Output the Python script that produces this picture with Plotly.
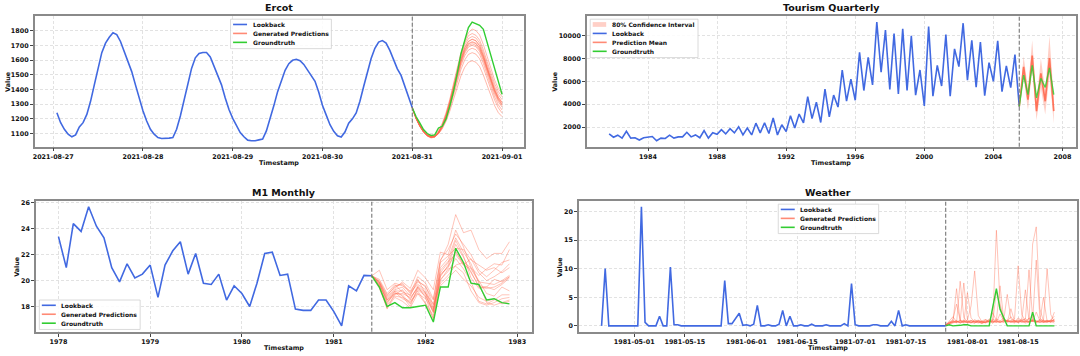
import plotly.graph_objects as go
import pandas as pd

# ================= DATA =================
# ---- Ercot (hourly) ----
ercot_lookback = [
    1241, 1174, 1129, 1096, 1078, 1091, 1145, 1174, 1230, 1319, 1431, 1543, 1650, 1715, 1755, 1785, 1773, 1726, 1659, 1588, 1521, 1431, 1337,
    1255, 1185, 1129, 1096, 1073, 1066, 1066, 1069, 1073, 1129, 1219, 1330, 1442, 1543, 1615, 1644, 1651, 1651, 1621, 1561, 1498, 1431, 1342, 1263,
    1203, 1151, 1107, 1078, 1055, 1051, 1051, 1057, 1062, 1118, 1200, 1290, 1385, 1465, 1530, 1575, 1598, 1605, 1595, 1570, 1530, 1495, 1455, 1380,
    1290, 1225, 1160, 1115, 1085, 1076, 1110, 1170, 1200, 1240, 1320, 1420, 1520, 1610, 1680, 1722, 1732, 1715, 1665, 1600, 1540, 1495, 1420, 1345,
    1275,
]
ercot_truth = [1275, 1216, 1172, 1127, 1100, 1087, 1091, 1138, 1149, 1198, 1283, 1384, 1507, 1641, 1731, 1820,
               1858, 1847, 1836, 1809, 1720, 1630, 1541, 1451, 1366]
ercot_samples = [
    [1275, 1210, 1160, 1120, 1095, 1085, 1090, 1120, 1170, 1240, 1330, 1440, 1550, 1650, 1730, 1785, 1810, 1800, 1770, 1705, 1625, 1540, 1465, 1405, 1370],
    [1275, 1205, 1150, 1110, 1085, 1075, 1082, 1112, 1160, 1230, 1320, 1425, 1535, 1635, 1715, 1765, 1780, 1768, 1735, 1670, 1590, 1510, 1440, 1385, 1350],
    [1275, 1208, 1158, 1118, 1092, 1080, 1085, 1110, 1155, 1222, 1310, 1415, 1520, 1620, 1700, 1745, 1760, 1750, 1715, 1650, 1570, 1490, 1420, 1365, 1330],
    [1275, 1200, 1148, 1108, 1082, 1070, 1075, 1100, 1148, 1215, 1305, 1405, 1510, 1605, 1680, 1725, 1740, 1730, 1695, 1630, 1550, 1470, 1400, 1345, 1310],
    [1275, 1204, 1152, 1112, 1087, 1076, 1080, 1106, 1152, 1218, 1302, 1400, 1500, 1595, 1668, 1712, 1725, 1715, 1682, 1620, 1542, 1462, 1392, 1338, 1300],
    [1275, 1206, 1156, 1116, 1090, 1078, 1083, 1108, 1150, 1212, 1295, 1392, 1492, 1585, 1655, 1698, 1710, 1700, 1668, 1606, 1530, 1452, 1382, 1326, 1290],
    [1275, 1202, 1150, 1110, 1084, 1072, 1076, 1100, 1142, 1205, 1288, 1385, 1485, 1575, 1645, 1688, 1700, 1690, 1658, 1596, 1520, 1440, 1370, 1315, 1280],
    [1275, 1207, 1157, 1117, 1091, 1079, 1082, 1104, 1144, 1204, 1283, 1376, 1472, 1560, 1628, 1668, 1680, 1670, 1638, 1576, 1500, 1420, 1350, 1295, 1260],
    [1275, 1203, 1151, 1111, 1085, 1073, 1077, 1098, 1136, 1192, 1268, 1358, 1450, 1535, 1600, 1638, 1650, 1640, 1608, 1548, 1474, 1396, 1328, 1275, 1240],
    [1275, 1205, 1154, 1114, 1088, 1076, 1079, 1098, 1132, 1182, 1250, 1330, 1415, 1492, 1550, 1585, 1595, 1585, 1555, 1498, 1428, 1355, 1290, 1242, 1215],
    [1275, 1206, 1155, 1115, 1089, 1077, 1081, 1107, 1153, 1220, 1306, 1408, 1512, 1608, 1683, 1728, 1742, 1732, 1698, 1633, 1553, 1473, 1403, 1348, 1312],
    [1275, 1204, 1153, 1113, 1087, 1075, 1080, 1105, 1150, 1216, 1300, 1398, 1498, 1592, 1664, 1708, 1720, 1711, 1678, 1616, 1538, 1458, 1388, 1333, 1296],
]
ercot_ticks = ["2021-08-27", "2021-08-28", "2021-08-29", "2021-08-30", "2021-08-31", "2021-09-01"]
ercot_yticks = [1100, 1200, 1300, 1400, 1500, 1600, 1700, 1800]

# ---- Tourism Quarterly ----
tourism_lookback = [
    1400, 1110, 1290, 1030, 1630, 1030, 1060, 860, 1060, 1140, 1170, 800, 1030, 1000, 1290, 1030,
    1140, 1140, 1540, 1140, 1310, 1060, 1690, 1030, 1510, 1370, 1770, 1400, 1860, 1490, 2030, 1310,
    1910, 1310, 2340, 1490, 2370, 1430, 2800, 1310, 2200, 1600, 3000, 1910, 3140, 2370, 4660, 2740,
    4170, 2400, 5330, 2900, 4800, 3750, 7000, 4270, 6200, 4350, 8550, 5200, 8100, 5700, 11200, 6800,
    10500, 5300, 10200, 4900, 10600, 5200, 10000, 4800, 7000, 3850, 10800, 4700, 7400, 5600, 10100, 4700,
    8850, 7300, 11100, 6100, 9600, 5500, 9450, 4750, 7650, 6000, 9550, 5100, 7350, 5450, 8350, 3800,
]
tourism_mean = [3800, 7270, 4400, 8270, 3400, 6700, 4260, 8050, 3400]
tourism_truth = [3800, 6550, 4840, 7400, 4550, 6270, 5470, 7190, 4840]
tourism_lower = [3600, 6300, 3500, 7000, 2600, 5400, 3100, 6500, 2300]
tourism_upper = [4000, 8200, 5400, 9600, 4300, 8000, 5200, 10000, 4500]
tourism_ticks = ["1984", "1988", "1992", "1996", "2000", "2004", "2008"]
tourism_yticks = [2000, 4000, 6000, 8000, 10000]

# ---- M1 Monthly ----
m1_lookback = [
    23.4, 21.0, 24.4, 23.8, 25.7, 24.2, 23.3, 21.0, 19.9, 21.3, 20.2, 20.5,
    21.2, 18.7, 21.2, 22.3, 23.0, 20.5, 22.1, 19.8, 19.7, 20.5, 18.5, 19.6,
    19.0, 18.0, 19.8, 22.1, 22.2, 20.4, 20.5, 17.8, 17.7, 17.7, 18.5, 18.5,
    17.6, 16.5, 19.6, 19.2, 20.4, 20.37,
]
m1_truth = [20.37, 19.5, 18.0, 18.3, 17.9, 17.9, 18.0, 18.1, 16.8, 19.5, 19.5, 22.5, 21.4, 19.8, 19.7, 18.5, 18.6, 18.3, 18.2]
m1_samples = [
    [20.37, 20.8, 19.3, 19.8, 19.6, 19.2, 20.0, 19.5, 18.5, 21.5, 22.8, 25.1, 23.7, 23.9, 22.4, 21.7, 22.1, 22.1, 23.0],
    [20.37, 19.9, 18.7, 19.4, 19.9, 19.4, 20.8, 20.2, 19.3, 22.2, 22.0, 23.9, 22.6, 21.0, 20.4, 20.9, 21.3, 21.2, 22.4],
    [20.37, 19.6, 17.8, 19.0, 18.9, 18.2, 19.2, 18.3, 17.3, 20.0, 20.9, 21.1, 20.6, 19.2, 18.3, 18.1, 18.3, 18.6, 18.7],
    [20.37, 19.8, 18.3, 19.2, 18.8, 18.0, 19.5, 18.7, 17.0, 20.3, 21.2, 22.8, 21.8, 20.6, 19.6, 19.5, 20.1, 19.9, 20.3],
    [20.37, 20.1, 19.0, 19.7, 19.1, 18.9, 19.9, 19.6, 18.1, 19.8, 20.4, 21.2, 21.4, 21.0, 20.0, 19.0, 18.8, 19.5, 19.2],
    [20.37, 19.5, 18.1, 18.8, 18.7, 18.4, 19.0, 18.6, 17.6, 21.0, 21.7, 23.3, 22.2, 21.3, 19.8, 18.3, 18.1, 18.3, 18.5],
    [20.37, 19.9, 18.6, 19.3, 19.5, 18.8, 20.1, 19.0, 18.2, 20.8, 21.5, 22.0, 21.2, 21.7, 20.6, 20.0, 20.3, 20.7, 21.3],
    [20.37, 19.7, 18.4, 18.9, 19.3, 18.5, 19.6, 19.1, 17.8, 20.6, 21.4, 23.1, 21.9, 20.2, 19.4, 19.5, 19.3, 19.7, 20.2],
    [20.37, 19.4, 17.9, 18.7, 18.4, 17.9, 19.0, 18.2, 17.1, 19.6, 20.2, 20.8, 20.1, 19.6, 18.7, 18.4, 18.6, 18.2, 18.4],
    [20.37, 20.0, 18.9, 19.5, 19.8, 19.1, 19.7, 19.3, 17.9, 21.4, 21.9, 22.5, 22.4, 21.6, 21.2, 20.8, 21.0, 20.6, 21.0],
    [20.37, 19.8, 18.5, 19.0, 19.0, 18.7, 19.4, 18.9, 17.5, 20.5, 21.0, 22.3, 21.2, 20.9, 19.9, 19.8, 19.7, 20.0, 20.4],
    [20.37, 19.6, 18.2, 19.1, 18.6, 18.3, 19.3, 18.8, 17.7, 20.1, 20.7, 21.7, 20.9, 19.9, 18.4, 18.2, 18.5, 18.9, 18.9],
    [20.37, 19.9, 18.8, 19.6, 19.7, 19.0, 20.3, 19.8, 18.6, 21.6, 22.4, 23.6, 22.8, 22.0, 20.8, 20.3, 20.8, 21.4, 21.6],
    [20.37, 19.7, 18.5, 19.2, 19.2, 18.6, 19.5, 19.0, 17.6, 20.4, 21.1, 22.2, 21.3, 20.7, 19.5, 19.4, 19.5, 19.8, 20.3],
]
m1_ticks = ["1978", "1979", "1980", "1981", "1982", "1983"]
m1_yticks = [18, 20, 22, 24, 26]

# ---- Weather (daily) ----
weather_lookback = [
    0, 10.0, 0, 0, 0, 0, 0, 0, 0, 0, 0, 20.8, 0.6, 0, 0, 0, 1.7, 0, 0, 10.3,
    0.2, 0.2, 0, 0, 0, 0, 0, 0, 0, 0, 0, 0, 0, 0, 7.9, 0.4, 0.4, 1.2, 2.2, 0.1,
    0.2, 0, 0.3, 3.6, 0, 0, 0.2, 0, 0, 0.3, 2.7, 0, 1.7, 0, 0, 0.2, 0, 0, 0.3, 0,
    0, 0, 0.2, 0, 0, 0, 0, 0.4, 0, 7.4, 0.2, 0, 0, 0, 0, 0.2, 0.2, 0, 0, 0,
    0.8, 0, 2.7, 0, 0.2, 0, 0, 0, 0, 0, 0, 0, 0, 0, 0, 0,
]
weather_truth = [0, 0.2, 0, 0, 0.1, 0.2, 0.2, 0, 0, 0, 0, 0, 0, 3.3, 6.5, 2.9, 1.5, 0, 0, 0,
                 0, 0, 0, 0, 2.4, 0, 0, 0, 0, 0, 0]
weather_samples = [
    [0.1, 0.4, 1.2, 3.8, 1.0, 0.6, 0.9, 0.5, 1.1, 0.7, 0.5, 0.8, 0.6, 1.0, 16.7, 4.0, 1.2, 0.6, 0.9, 0.7, 1.1, 0.8, 0.6, 1.4, 0.9, 0.7, 1.0, 0.6, 0.8, 0.9, 1.0],
    [0.2, 0.6, 0.8, 0.5, 7.8, 1.5, 0.7, 0.5, 0.9, 0.6, 0.4, 0.7, 1.0, 0.8, 0.6, 2.1, 0.9, 5.5, 1.2, 0.8, 0.6, 0.9, 1.3, 0.7, 14.3, 17.3, 3.0, 0.8, 0.9, 0.7, 1.2],
    [0.1, 0.5, 0.7, 6.5, 0.8, 7.5, 1.1, 0.6, 0.5, 0.8, 0.6, 0.9, 0.7, 1.2, 0.8, 0.6, 1.0, 0.7, 0.9, 1.2, 10.5, 2.0, 0.8, 0.7, 1.1, 0.9, 0.6, 0.8, 0.7, 0.9, 0.8],
    [0.2, 0.3, 0.6, 0.9, 0.5, 0.7, 1.0, 3.5, 9.6, 1.8, 0.7, 0.6, 0.9, 0.5, 1.0, 7.0, 1.3, 0.8, 0.6, 0.9, 0.7, 1.1, 6.3, 1.0, 0.8, 11.5, 1.4, 0.7, 1.0, 0.6, 0.9],
    [0.1, 0.8, 1.6, 0.7, 0.9, 0.6, 5.8, 1.4, 0.7, 0.9, 0.6, 1.1, 0.8, 0.7, 1.2, 0.9, 0.7, 1.0, 0.8, 0.6, 1.4, 0.9, 1.1, 9.8, 1.3, 0.8, 0.6, 1.0, 10.0, 2.0, 0.7],
    [0.2, 0.4, 0.9, 0.6, 0.8, 0.5, 0.7, 1.0, 0.6, 0.8, 0.5, 0.7, 1.2, 0.9, 0.6, 0.8, 1.4, 0.7, 3.0, 0.8, 0.6, 0.9, 0.7, 1.3, 0.8, 2.4, 0.9, 5.0, 0.8, 0.7, 2.4],
    [0.1, 0.6, 0.5, 0.8, 0.6, 0.9, 0.5, 0.7, 0.8, 1.0, 0.7, 0.5, 0.8, 2.3, 0.9, 0.6, 0.8, 0.9, 0.7, 0.5, 0.9, 0.7, 0.8, 0.6, 0.9, 0.8, 0.7, 0.6, 0.9, 0.7, 1.1],
    [0.2, 0.5, 0.7, 0.6, 1.0, 0.8, 0.6, 0.9, 0.7, 0.5, 0.8, 0.6, 0.9, 0.7, 0.8, 0.6, 1.0, 0.8, 1.6, 0.7, 0.9, 0.6, 0.8, 0.7, 0.9, 0.6, 0.8, 0.9, 0.7, 1.0, 0.8],
    [0.1, 0.3, 0.6, 0.9, 0.5, 0.8, 0.6, 0.7, 0.5, 0.9, 0.7, 0.6, 0.8, 0.5, 0.9, 0.7, 0.6, 0.8, 0.7, 0.9, 0.6, 0.8, 0.5, 0.7, 0.8, 0.6, 0.9, 0.7, 0.6, 0.8, 0.5],
    [0.2, 0.7, 0.9, 0.8, 0.6, 1.0, 0.7, 0.9, 0.8, 0.6, 0.9, 1.1, 0.7, 0.8, 6.0, 3.2, 0.8, 1.0, 0.7, 0.9, 0.8, 1.2, 0.9, 0.7, 1.0, 0.8, 1.1, 0.9, 0.8, 1.0, 1.7],
]
weather_ticks = ["1981-05-01", "1981-05-15", "1981-06-01", "1981-06-15", "1981-07-01", "1981-07-15", "1981-08-01", "1981-08-15"]
weather_yticks = [0, 5, 10, 15, 20]

# ================= STYLE =================
W, H = 1080, 356
FONT = "DejaVu Sans"
BLUE = "#4169E1"
GREEN = "#32CD32"
ERCOT_SAMPLE = "rgba(255,99,71,0.45)"
SAMPLE = "rgba(255,99,71,0.38)"
LEG_RED = "rgba(255,99,71,0.75)"
CI_FILL = "rgba(255,99,71,0.3)"


def px_x(p):
    return p / W


def px_y(p):
    return 1 - p / H


# ================= X DATES =================
ercot_lb_x = pd.date_range("2021-08-27 01:00", periods=len(ercot_lookback), freq="h")
ercot_fc_x = pd.date_range(ercot_lb_x[-1], periods=len(ercot_truth), freq="h")
tour_lb_x = pd.date_range("1981-10-01", periods=len(tourism_lookback), freq="QS")
tour_fc_x = pd.date_range(tour_lb_x[-1], periods=len(tourism_mean), freq="QS")
m1_lb_x = pd.date_range("1978-01-01", periods=len(m1_lookback), freq="MS")
m1_fc_x = pd.date_range(m1_lb_x[-1], periods=len(m1_truth), freq="MS")
w_lb_x = pd.date_range("1981-04-22", periods=len(weather_lookback), freq="D")
w_fc_x = pd.date_range(w_lb_x[-1], periods=len(weather_truth), freq="D")

fig = go.Figure()

P = {
    "ercot": ("x", "y"),
    "tour": ("x2", "y2"),
    "m1": ("x3", "y3"),
    "weather": ("x4", "y4"),
}


def add_line(panel, x, y, color, width, name):
    xa, ya = P[panel]
    fig.add_trace(go.Scatter(x=x, y=y, mode="lines", name=name, showlegend=False,
                             xaxis=xa, yaxis=ya, line=dict(color=color, width=width)))


# ---- Ercot ----
add_line("ercot", ercot_lb_x, ercot_lookback, BLUE, 1.6, "Lookback")
for s in ercot_samples:
    add_line("ercot", ercot_fc_x, s, ERCOT_SAMPLE, 1.0, "Generated Predictions")
add_line("ercot", ercot_fc_x, ercot_truth, GREEN, 1.4, "Groundtruth")

# ---- Tourism ----
xa, ya = P["tour"]
fig.add_trace(go.Scatter(x=list(tour_fc_x) + list(tour_fc_x[::-1]),
                         y=tourism_upper + tourism_lower[::-1],
                         fill="toself", fillcolor=CI_FILL, showlegend=False,
                         line=dict(width=0, color=CI_FILL), mode="lines",
                         name="80% Confidence Interval", xaxis=xa, yaxis=ya))
add_line("tour", tour_lb_x, tourism_lookback, BLUE, 1.6, "Lookback")
add_line("tour", tour_fc_x, tourism_mean, "rgba(255,99,71,0.85)", 1.7, "Prediction Mean")
add_line("tour", tour_fc_x, tourism_truth, "rgba(50,205,50,0.85)", 1.4, "Groundtruth")

# ---- M1 ----
add_line("m1", m1_lb_x, m1_lookback, BLUE, 1.6, "Lookback")
for s in m1_samples:
    add_line("m1", m1_fc_x, s, SAMPLE, 1.0, "Generated Predictions")
add_line("m1", m1_fc_x, m1_truth, GREEN, 1.4, "Groundtruth")

# ---- Weather ----
add_line("weather", w_lb_x, weather_lookback, BLUE, 1.6, "Lookback")
for s in weather_samples:
    add_line("weather", w_fc_x, s, SAMPLE, 1.0, "Generated Predictions")
add_line("weather", w_fc_x, weather_truth, GREEN, 1.4, "Groundtruth")


# ================= AXES =================
def pad_range(lo, hi, frac=0.05):
    d = hi - lo
    return [lo - frac * d, hi + frac * d]


def date_range_pad(first, last, frac=0.05):
    d = last - first
    return [first - frac * d, last + frac * d]


tick_font = dict(family=FONT, size=6.4, color="#111", weight="bold")
common_axis = dict(showline=True, linecolor="#8a8a8a", linewidth=1.5, mirror=True,
                   showgrid=True, gridcolor="#e2e2e2", griddash="3px,2px", gridwidth=0.6,
                   ticks="outside", ticklen=3, tickwidth=0.8, tickcolor="#444",
                   tickfont=tick_font, zeroline=False)

panels_geom = {
    # x0, x1, ytop, ybottom in pixels
    "ercot": (32.7, 523.3, 14.2, 145.5),
    "tour": (586.0, 1076.0, 14.2, 145.5),
    "m1": (34.0, 531.0, 200.0, 331.7),
    "weather": (578.0, 1077.0, 200.0, 331.7),
}

ercot_all = ercot_lookback + ercot_truth + [v for s in ercot_samples for v in s]
tour_all = tourism_lookback + tourism_upper + tourism_lower + tourism_truth + tourism_mean
m1_all = m1_lookback + m1_truth + [v for s in m1_samples for v in s]
w_all = weather_lookback + weather_truth + [v for s in weather_samples for v in s]

axis_specs = {
    "ercot": dict(xr=date_range_pad(ercot_lb_x[0], ercot_fc_x[-1]), yr=pad_range(min(ercot_all), max(ercot_all)),
                  xt=ercot_ticks, xv=ercot_ticks, yt=ercot_yticks),
    "tour": dict(xr=date_range_pad(tour_lb_x[0], tour_fc_x[-1]), yr=pad_range(min(tour_all), max(tour_all)),
                 xt=tourism_ticks, xv=[t + "-01-01" for t in tourism_ticks], yt=tourism_yticks),
    "m1": dict(xr=date_range_pad(m1_lb_x[0], m1_fc_x[-1]), yr=pad_range(min(m1_all), max(m1_all)),
               xt=m1_ticks, xv=[t + "-01-01" for t in m1_ticks], yt=m1_yticks),
    "weather": dict(xr=date_range_pad(w_lb_x[0], w_fc_x[-1]), yr=pad_range(min(w_all), max(w_all)),
                    xt=weather_ticks, xv=weather_ticks, yt=weather_yticks),
}

layout_axes = {}
for key, (xa, ya) in P.items():
    x0, x1, yt, yb = panels_geom[key]
    spec = axis_specs[key]
    xname = "xaxis" + xa[1:]
    yname = "yaxis" + ya[1:]
    layout_axes[xname] = dict(common_axis, domain=[px_x(x0), px_x(x1)], anchor=ya, type="date",
                              range=[str(spec["xr"][0]), str(spec["xr"][1])],
                              tickmode="array", tickvals=spec["xv"], ticktext=spec["xt"])
    layout_axes[yname] = dict(common_axis, domain=[px_y(yb), px_y(yt)], anchor=xa,
                              range=spec["yr"], tickmode="array", tickvals=spec["yt"],
                              ticktext=[str(v) for v in spec["yt"]])

# ================= SHAPES (forecast start) =================
shapes = []
for key, xval in (("ercot", ercot_lb_x[-1]), ("tour", tour_lb_x[-1]), ("m1", m1_lb_x[-1]), ("weather", w_lb_x[-1])):
    xa, ya = P[key]
    shapes.append(dict(type="line", xref=xa, yref=ya + " domain", x0=xval, x1=xval, y0=0, y1=1,
                       line=dict(color="#777", width=1.1, dash="4px,2px")))

# ================= ANNOTATIONS =================
titles = {"ercot": "Ercot", "tour": "Tourism Quarterly", "m1": "M1 Monthly", "weather": "Weather"}
title_y = {"ercot": 5.5, "tour": 5.5, "m1": 191.5, "weather": 191.5}
xlabel_y = {"ercot": 162.0, "tour": 162.0, "m1": 347.5, "weather": 347.5}
ylabel_x = {"ercot": 6.5, "tour": 554.5, "m1": 15.5, "weather": 559.0}
annotations = []
for key in P:
    x0, x1, yt, yb = panels_geom[key]
    cx = (x0 + x1) / 2
    annotations.append(dict(text=titles[key], x=px_x(cx), y=px_y(title_y[key]), xref="paper", yref="paper",
                            showarrow=False, xanchor="center", yanchor="middle",
                            font=dict(family=FONT, size=9.5, color="#111", weight="bold")))
    annotations.append(dict(text="Timestamp", x=px_x(cx), y=px_y(xlabel_y[key]), xref="paper", yref="paper",
                            showarrow=False, xanchor="center", yanchor="middle",
                            font=dict(family=FONT, size=6.4, color="#111", weight="bold")))
    annotations.append(dict(text="Value", x=px_x(ylabel_x[key]), y=px_y((yt + yb) / 2), xref="paper", yref="paper",
                            showarrow=False, xanchor="center", yanchor="middle", textangle=-90,
                            font=dict(family=FONT, size=6.4, color="#111", weight="bold")))

# ================= LEGENDS (compact, matplotlib-like) =================
# (left, top, width, row height, entries)
legends = [
    (229.0, 17.3, 101.0, 9.0, [("Lookback", BLUE, "line"), ("Generated Predictions", LEG_RED, "line"),
                               ("Groundtruth", GREEN, "line")]),
    (589.3, 17.3, 108.0, 9.0, [("80% Confidence Interval", CI_FILL, "patch"), ("Lookback", BLUE, "line"),
                               ("Prediction Mean", LEG_RED, "line"), ("Groundtruth", GREEN, "line")]),
    (37.4, 299.7, 101.0, 9.0, [("Lookback", BLUE, "line"), ("Generated Predictions", LEG_RED, "line"),
                               ("Groundtruth", GREEN, "line")]),
    (777.7, 203.3, 100.6, 9.0, [("Lookback", BLUE, "line"), ("Generated Predictions", LEG_RED, "line"),
                                ("Groundtruth", GREEN, "line")]),
]
for left, top, width, rh, entries in legends:
    height = rh * len(entries) + 2.6
    shapes.append(dict(type="rect", xref="paper", yref="paper",
                       x0=px_x(left), x1=px_x(left + width), y0=px_y(top + height), y1=px_y(top),
                       fillcolor="rgba(255,255,255,0.85)", line=dict(color="#d0d0d0", width=0.8), layer="above"))
    for i, (label, color, kind) in enumerate(entries):
        cy = top + 5.3 + i * rh
        if kind == "line":
            shapes.append(dict(type="line", xref="paper", yref="paper",
                               x0=px_x(left + 2.5), x1=px_x(left + 16.5), y0=px_y(cy), y1=px_y(cy),
                               line=dict(color=color, width=1.6), layer="above"))
        else:
            shapes.append(dict(type="rect", xref="paper", yref="paper",
                               x0=px_x(left + 2.5), x1=px_x(left + 16.0), y0=px_y(cy + 2.4), y1=px_y(cy - 2.4),
                               fillcolor=color, line=dict(width=0), layer="above"))
        annotations.append(dict(text=label, x=px_x(left + 20.0), y=px_y(cy), xref="paper", yref="paper",
                                showarrow=False, xanchor="left", yanchor="middle",
                                font=dict(family=FONT, size=6, color="#111", weight="bold")))

fig.update_layout(
    width=W, height=H, margin=dict(l=0, r=0, t=0, b=0),
    paper_bgcolor="white", plot_bgcolor="white",
    shapes=shapes, annotations=annotations, showlegend=False,
    **layout_axes,
)

fig.write_html("out.html", config={"displayModeBar": False},
               post_script="document.body.style.margin='0';document.body.style.padding='0';")
